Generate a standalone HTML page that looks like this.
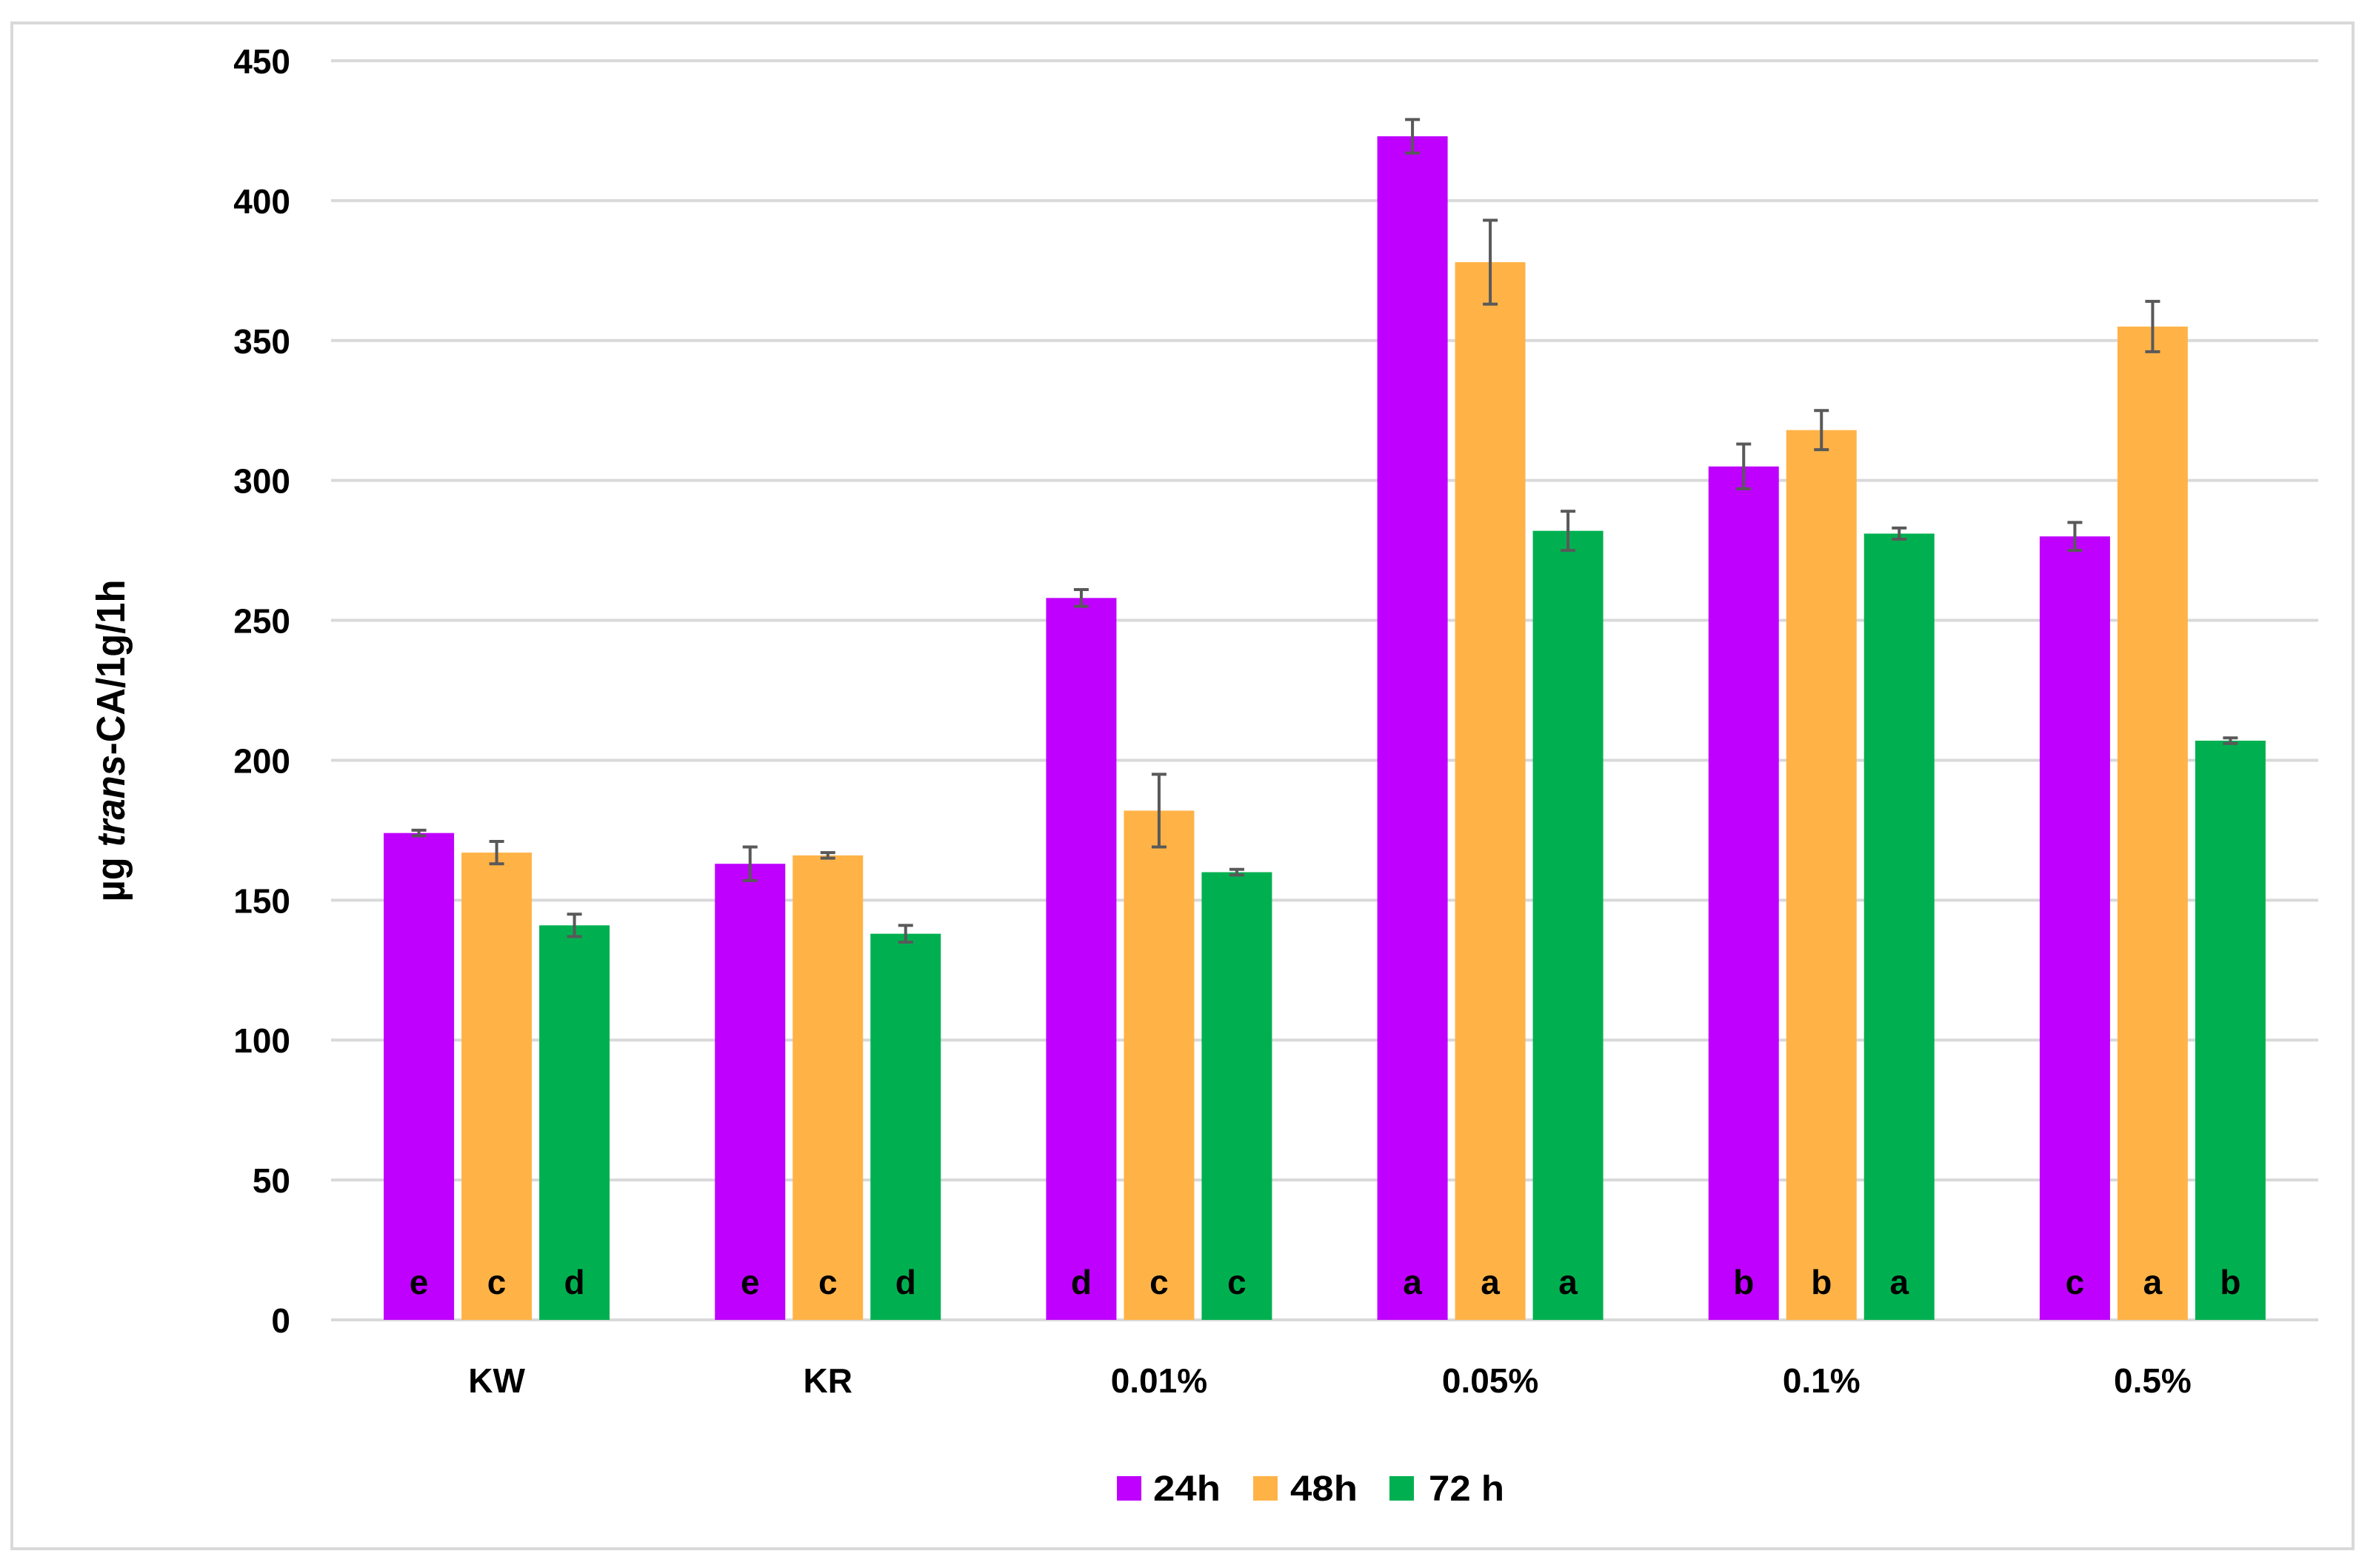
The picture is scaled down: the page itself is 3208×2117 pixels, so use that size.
<!DOCTYPE html>
<html><head><meta charset="utf-8"><style>
html,body{margin:0;padding:0;background:#fff;}
svg{display:block;font-family:"Liberation Sans",sans-serif;}
</style></head><body>
<svg id="chart" width="3208" height="2117" viewBox="0 0 3208 2117" xmlns="http://www.w3.org/2000/svg">
<rect x="16" y="31" width="3161" height="2060" fill="#fff" stroke="#d9d9d9" stroke-width="4"/>
<g id="grid"></g><g id="bars"></g><g id="labels"></g>
<text transform="translate(168,1000) rotate(-90)" text-anchor="middle" font-size="54" font-weight="bold" textLength="435" lengthAdjust="spacingAndGlyphs">µg <tspan font-style="italic">trans</tspan>-CA/1g/1h</text>
<g>
<rect x="1508" y="1993" width="33" height="33" fill="#bf00ff"/>
<text x="1557" y="2026" font-size="48" font-weight="bold" textLength="91" lengthAdjust="spacingAndGlyphs">24h</text>
<rect x="1692" y="1993" width="33" height="33" fill="#ffb347"/>
<text x="1742" y="2026" font-size="48" font-weight="bold" textLength="91" lengthAdjust="spacingAndGlyphs">48h</text>
<rect x="1876" y="1993" width="33" height="33" fill="#00b050"/>
<text x="1929" y="2026" font-size="48" font-weight="bold" textLength="102" lengthAdjust="spacingAndGlyphs">72 h</text>
</g>
</svg>
<script>
const categories = ["KW","KR","0.01%","0.05%","0.1%","0.5%"];
const seriesNames = ["24h","48h","72h"];
const values24 = [174,163,258,423,305,280];
const values48 = [167,166,182,378,318,355];
const values72 = [141,138,160,282,281,207];
const err24 = [1,6,3,6,8,5];
const err48 = [4,1,13,15,7,9];
const err72 = [4,3,1,7,2,1];
const letters24 = ["e","e","d","a","b","c"];
const letters48 = ["c","c","c","a","b","a"];
const letters72 = ["d","d","c","a","a","b"];
const yTicks = [0,50,100,150,200,250,300,350,400,450];

const colors = ["#bf00ff","#ffb347","#00b050"];
const NS = "http://www.w3.org/2000/svg";
const plotL = 447, plotR = 3130, y0 = 1782, yTop = 82, yMax = 450;
const yScale = v => y0 - (v / yMax) * (y0 - yTop);
const catW = (plotR - plotL) / categories.length;
const xCenter = i => plotL + catW * (i + 0.5);
const barW = 95, step = 105;
function mk(tag, attrs, parent){const e=document.createElementNS(NS,tag);for(const k in attrs)e.setAttribute(k,attrs[k]);parent.appendChild(e);return e;}
const grid = document.getElementById('grid'), bars = document.getElementById('bars'), labels = document.getElementById('labels');
yTicks.forEach(t=>{
  const y=yScale(t);
  const l=mk('line',{x1:plotL,x2:plotR,y1:y,y2:y,stroke:'#d9d9d9','stroke-width':4},grid);
  
  
  const tx=mk('text',{x:392,y:y+17,'text-anchor':'end','font-size':46,'font-weight':'bold'},labels);
  tx.textContent=t;
  
  
});
const vals=[values24,values48,values72], errs=[err24,err48,err72], lets=[letters24,letters48,letters72];
categories.forEach((c,i)=>{
  const cx=xCenter(i);
  vals.forEach((arr,s)=>{
    const bx=cx+(s-1)*step-barW/2;
    const top=yScale(arr[i]);
    const r=mk('rect',{x:bx,y:top,width:barW,height:y0-top,fill:colors[s]},bars);
    
    
    const mx=bx+barW/2, e=errs[s][i];
    const g=mk('path',{d:`M${mx},${yScale(arr[i]+e)}V${yScale(arr[i]-e)}M${mx-10},${yScale(arr[i]+e)}H${mx+10}M${mx-10},${yScale(arr[i]-e)}H${mx+10}`,stroke:'#595959','stroke-width':4,fill:'none'},bars);
    
    
    const lt=mk('text',{x:mx,y:1747,'text-anchor':'middle','font-size':46,'font-weight':'bold'},labels);
    lt.textContent=lets[s][i];
    
    
  });
  const ct=mk('text',{x:cx,y:1880,'text-anchor':'middle','font-size':46,'font-weight':'bold'},labels);
  ct.textContent=c;
  
  
});
</script>
</body></html>
